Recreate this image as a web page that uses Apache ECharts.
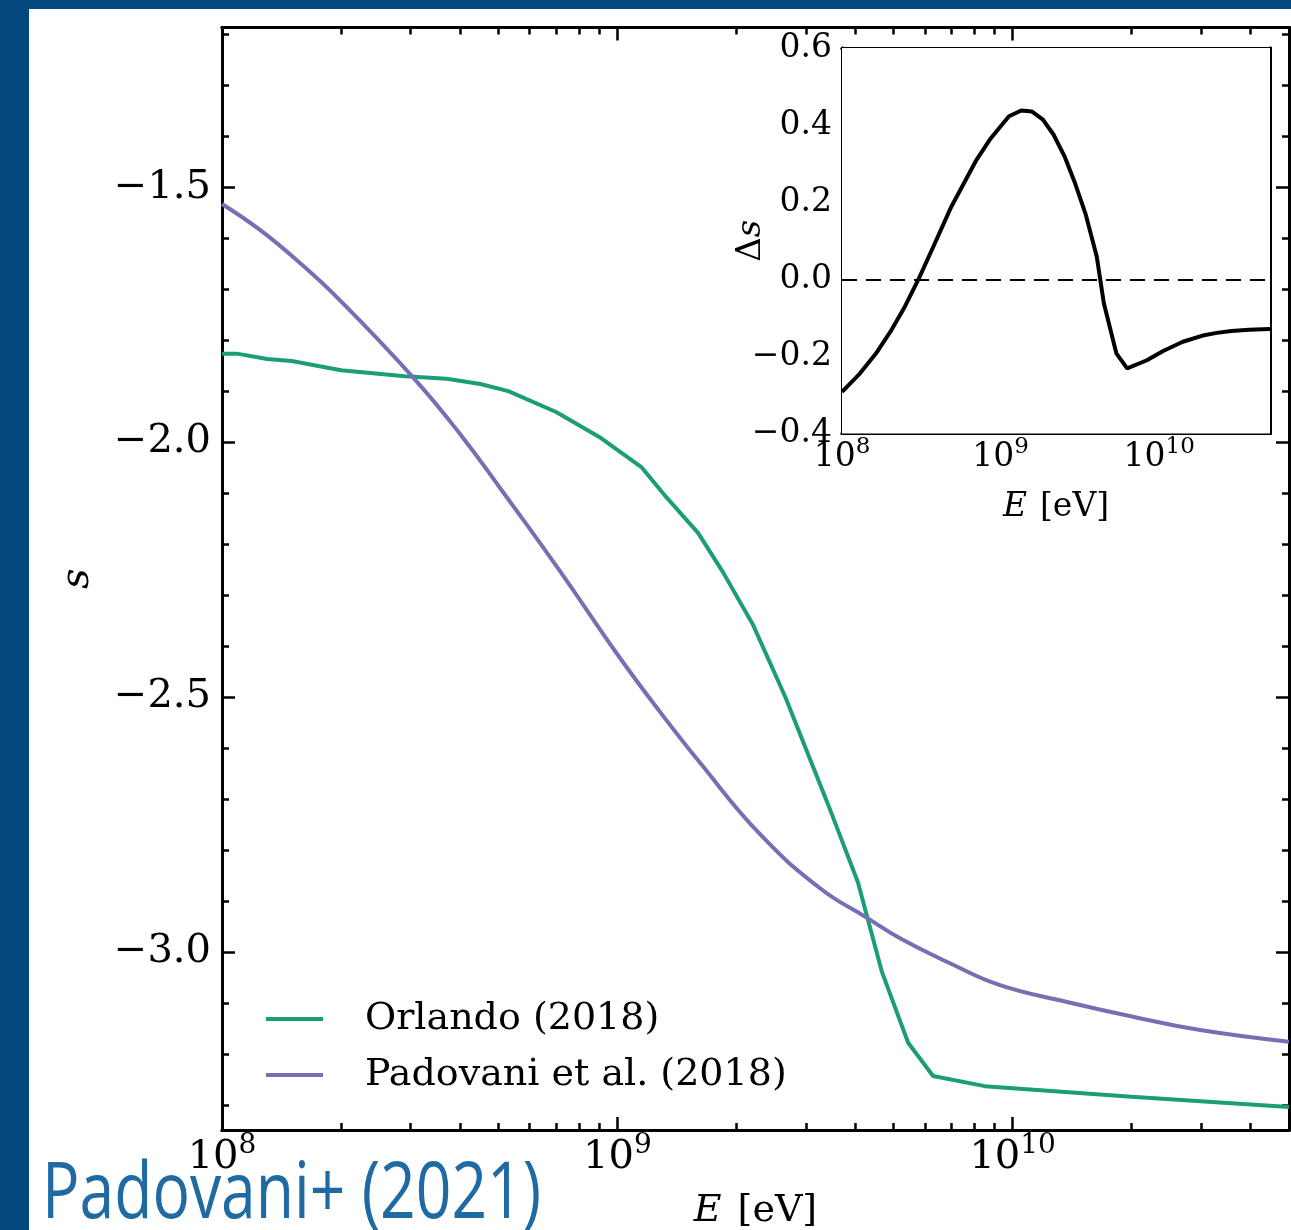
<!DOCTYPE html>
<html>
<head>
<meta charset="utf-8">
<script src="https://cdn.jsdelivr.net/npm/echarts@6.0.0/dist/echarts.min.js"></script>
<style>
html,body{margin:0;padding:0;background:#fff;}
#c{width:1291px;height:1230px;}
</style>
</head>
<body>
<div id="c"></div>
<script>
// ---------- data ----------
const orlandoE = [1e8, 1.1e8, 1.3e8, 1.5e8, 2.0e8, 2.9e8, 3.7e8, 4.5e8, 5.3e8, 7.0e8, 9.0e8, 1.15e9, 1.33e9, 1.6e9, 1.85e9, 2.2e9, 2.66e9, 3.41e9, 4.06e9, 4.67e9, 5.44e9, 6.29e9, 8.5e9, 1.0e10, 2.0e10, 5e10];
const orlandoS = [-1.827, -1.827, -1.837, -1.841, -1.859, -1.871, -1.876, -1.886, -1.900, -1.941, -1.990, -2.049, -2.108, -2.178, -2.255, -2.357, -2.500, -2.710, -2.863, -3.039, -3.178, -3.243, -3.263, -3.267, -3.284, -3.304];

const padovaniE = [1e8, 1.248e8, 1.575e8, 1.988e8, 3.042e8, 4.0e8, 5.05e8, 7.16e8, 1.004e9, 1.282e9, 1.619e9, 2.296e9, 3.256e9, 4.282e9, 5.19e9, 6.94e9, 9.29e9, 1.373e10, 2.017e10, 2.98e10, 5e10];
const padovaniS = [-1.533, -1.584, -1.649, -1.722, -1.873, -1.984, -2.090, -2.253, -2.418, -2.529, -2.629, -2.769, -2.875, -2.933, -2.973, -3.022, -3.065, -3.098, -3.127, -3.153, -3.176];

const deltaE = [1.0e8, 1.30e8, 1.64e8, 2.02e8, 2.49e8, 3.06e8, 3.77e8, 4.90e8, 7.05e8, 8.68e8, 1.13e9, 1.35e9, 1.58e9, 1.85e9, 2.16e9, 2.53e9, 2.95e9, 3.45e9, 4.04e9, 4.48e9, 5.37e9, 6.28e9, 8.37e9, 1.06e10, 1.41e10, 1.88e10, 2.31e10, 2.85e10, 3.69e10, 5e10];
const deltaS = [-0.292, -0.244, -0.192, -0.136, -0.071, 0.003, 0.085, 0.189, 0.310, 0.366, 0.423, 0.438, 0.435, 0.414, 0.375, 0.319, 0.249, 0.167, 0.059, -0.062, -0.192, -0.231, -0.210, -0.186, -0.162, -0.146, -0.139, -0.134, -0.131, -0.129];

// ticks
const xMajorTicks = [1e8, 1e9, 1e10];
const xMinorTicks = [2e8, 3e8, 4e8, 5e8, 6e8, 7e8, 8e8, 9e8, 2e9, 3e9, 4e9, 5e9, 6e9, 7e9, 8e9, 9e9, 2e10, 3e10, 4e10];
const mainYMajorTicks = [-3.0, -2.5, -2.0, -1.5];
const mainYMinorTicks = [-3.3, -3.2, -3.1, -2.9, -2.8, -2.7, -2.6, -2.4, -2.3, -2.2, -2.1, -1.9, -1.8, -1.7, -1.6, -1.4, -1.3, -1.2];
const insetYMajorTicks = [-0.4, -0.2, 0.0, 0.2, 0.4, 0.6];
const insetYMinorTicks = [-0.35, -0.3, -0.25, -0.15, -0.1, -0.05, 0.05, 0.1, 0.15, 0.25, 0.3, 0.35, 0.45, 0.5, 0.55];

const seriesNames = ['Orlando (2018)', 'Padovani et al. (2018)'];
const colors = ['#1b9e77', '#7570b3'];

// ---------- chart ----------
const SERIF = 'DejaVu Serif';
const chart = echarts.init(document.getElementById('c'), null, {renderer: 'canvas', width: 1291, height: 1230});

function fmtY(v) {
  const s = Math.abs(v).toFixed(1);
  return (v < -1e-9 ? '\u2212' : '') + s;
}
function fmtPow(v) {
  return '{b|10}{s|' + Math.round(Math.log10(v)) + '}';
}

const SPINE = 3, TICKW = 2.5;
function xAx(grid, pos, ticks, len, label) {
  const a = {
    type: 'log', logBase: 10, gridIndex: grid, position: pos, min: 1e8, max: 5e10,
    nameMoveOverlap: false,
    axisLine: {show: true, onZero: false, lineStyle: {color: '#000', width: SPINE}},
    axisTick: {show: true, inside: true, length: len, customValues: ticks, lineStyle: {color: '#000', width: TICKW}},
    axisLabel: {show: false},
    splitLine: {show: false}, minorTick: {show: false}, minorSplitLine: {show: false}
  };
  if (label) Object.assign(a, label);
  return a;
}
function yAx(grid, pos, min, max, ticks, len, label) {
  const a = {
    type: 'value', gridIndex: grid, position: pos, min: min, max: max, scale: true,
    nameMoveOverlap: false,
    axisLine: {show: true, onZero: false, lineStyle: {color: '#000', width: SPINE}},
    axisTick: {show: true, inside: true, length: len, customValues: ticks, lineStyle: {color: '#000', width: TICKW}},
    axisLabel: {show: false},
    splitLine: {show: false}, minorTick: {show: false}, minorSplitLine: {show: false}
  };
  if (label) Object.assign(a, label);
  return a;
}

const MAIN_YMIN = -3.349, MAIN_YMAX = -1.187;
const INS_YMIN = -0.4, INS_YMAX = 0.6;

const mainXLabel = {
  axisLabel: {show: true, customValues: xMajorTicks, margin: 2, formatter: fmtPow, color: '#000',
    rich: {
      b: {fontFamily: SERIF, fontSize: 40, color: '#000', lineHeight: 46, verticalAlign: 'bottom'},
      s: {fontFamily: SERIF, fontSize: 28, color: '#000', lineHeight: 46, verticalAlign: 'top', padding: [0, 0, 14, 0]}
    }},
  name: '{i|E}{n|[eV]}', nameLocation: 'middle', nameGap: 62,
  nameTextStyle: {rich: {
    i: {fontFamily: SERIF, fontStyle: 'italic', fontSize: 38, color: '#000'},
    n: {fontFamily: SERIF, fontSize: 38, color: '#000', padding: [0, 0, 0, 16]}
  }}
};
const insetXLabel = {
  axisLabel: {show: true, customValues: xMajorTicks, margin: 2, formatter: fmtPow, color: '#000',
    rich: {
      b: {fontFamily: SERIF, fontSize: 33, color: '#000', lineHeight: 38, verticalAlign: 'bottom'},
      s: {fontFamily: SERIF, fontSize: 23, color: '#000', lineHeight: 38, verticalAlign: 'top', padding: [0, 0, 12, 0]}
    }},
  name: '{i|E}{n|[eV]}', nameLocation: 'middle', nameGap: 57,
  nameTextStyle: {rich: {
    i: {fontFamily: SERIF, fontStyle: 'italic', fontSize: 33, color: '#000'},
    n: {fontFamily: SERIF, fontSize: 33, color: '#000', padding: [0, 0, 0, 13]}
  }}
};
const mainYLabel = {
  axisLabel: {show: true, customValues: mainYMajorTicks, margin: 11, formatter: fmtY,
    fontFamily: SERIF, fontSize: 40, color: '#000'},
  name: 's', nameLocation: 'middle', nameGap: 124, nameRotate: 90,
  nameTextStyle: {fontFamily: SERIF, fontStyle: 'italic', fontSize: 40, color: '#000'}
};
const insetYLabel = {
  axisLabel: {show: true, customValues: insetYMajorTicks, margin: 10, formatter: fmtY,
    fontFamily: SERIF, fontSize: 33, color: '#000'},
  name: '{d|\u0394}{i|s}', nameLocation: 'middle', nameGap: 74, nameRotate: 90,
  nameTextStyle: {rich: {
    d: {fontFamily: SERIF, fontSize: 34, color: '#000'},
    i: {fontFamily: SERIF, fontStyle: 'italic', fontSize: 34, color: '#000'}
  }}
};

const option = {
  animation: false,
  backgroundColor: '#fff',
  grid: [
    {left: 222, top: 27.5, width: 1067, height: 1102.5, show: false, containLabel: false, outerBoundsMode: 'none'},
    {left: 842, top: 48, width: 428, height: 385.5, show: true, backgroundColor: '#fff', borderWidth: 0, containLabel: false, outerBoundsMode: 'none', z: 5}
  ],
  xAxis: [
    xAx(0, 'bottom', xMajorTicks, 13, mainXLabel),
    xAx(0, 'bottom', xMinorTicks, 7),
    xAx(0, 'top', xMajorTicks, 13),
    xAx(0, 'top', xMinorTicks, 7),
    xAx(1, 'bottom', xMajorTicks, 12, insetXLabel),
    xAx(1, 'bottom', xMinorTicks, 6),
    xAx(1, 'top', xMajorTicks, 12),
    xAx(1, 'top', xMinorTicks, 6)
  ],
  yAxis: [
    yAx(0, 'left', MAIN_YMIN, MAIN_YMAX, mainYMajorTicks, 13, mainYLabel),
    yAx(0, 'left', MAIN_YMIN, MAIN_YMAX, mainYMinorTicks, 7),
    yAx(0, 'right', MAIN_YMIN, MAIN_YMAX, mainYMajorTicks, 13),
    yAx(0, 'right', MAIN_YMIN, MAIN_YMAX, mainYMinorTicks, 7),
    yAx(1, 'left', INS_YMIN, INS_YMAX, insetYMajorTicks, 12, insetYLabel),
    yAx(1, 'left', INS_YMIN, INS_YMAX, insetYMinorTicks, 6),
    yAx(1, 'right', INS_YMIN, INS_YMAX, insetYMajorTicks, 12),
    yAx(1, 'right', INS_YMIN, INS_YMAX, insetYMinorTicks, 6)
  ],
  legend: {
    left: 266, top: 991, orient: 'vertical', padding: 0, itemGap: 0,
    itemWidth: 57, itemHeight: 4, icon: 'rect',
    textStyle: {fontFamily: SERIF, fontSize: 38, color: '#000', lineHeight: 56, padding: [0, 0, 0, 37]},
    data: seriesNames
  },
  series: [
    {
      name: seriesNames[0], type: 'line', xAxisIndex: 0, yAxisIndex: 0,
      data: orlandoE.map((e, i) => [e, orlandoS[i]]),
      showSymbol: false, symbol: 'none', clip: true,
      lineStyle: {color: colors[0], width: 4}, itemStyle: {color: colors[0]}
    },
    {
      name: seriesNames[1], type: 'line', xAxisIndex: 0, yAxisIndex: 0,
      data: padovaniE.map((e, i) => [e, padovaniS[i]]),
      showSymbol: false, symbol: 'none', smooth: 0.45, clip: true,
      lineStyle: {color: colors[1], width: 4}, itemStyle: {color: colors[1]}
    },
    {
      name: 'delta', type: 'line', xAxisIndex: 4, yAxisIndex: 4, z: 10,
      data: deltaE.map((e, i) => [e, deltaS[i]]),
      showSymbol: false, symbol: 'none', clip: true,
      lineStyle: {color: '#000', width: 4}, itemStyle: {color: '#000'},
      markLine: {
        silent: true, symbol: 'none', label: {show: false},
        lineStyle: {color: '#000', width: 1.8, type: [15, 9]},
        data: [{yAxis: 0}]
      }
    }
  ],
  graphic: [
    {type: 'rect', left: 0, top: 0, z: 100, shape: {width: 1291, height: 9}, style: {fill: '#03477e'}},
    {type: 'rect', left: 0, top: 0, z: 100, shape: {width: 29, height: 1230}, style: {fill: '#03477e'}},
    {type: 'text', x: 42, y: 1196, scaleX: 0.8, z: 100,
      style: {text: 'Padovani+ (2021)', fill: '#1f6aa3', font: '78px "Open Sans", "Liberation Sans", sans-serif', textVerticalAlign: 'middle', verticalAlign: 'middle'}}
  ]
};
chart.setOption(option);
</script>
</body>
</html>
